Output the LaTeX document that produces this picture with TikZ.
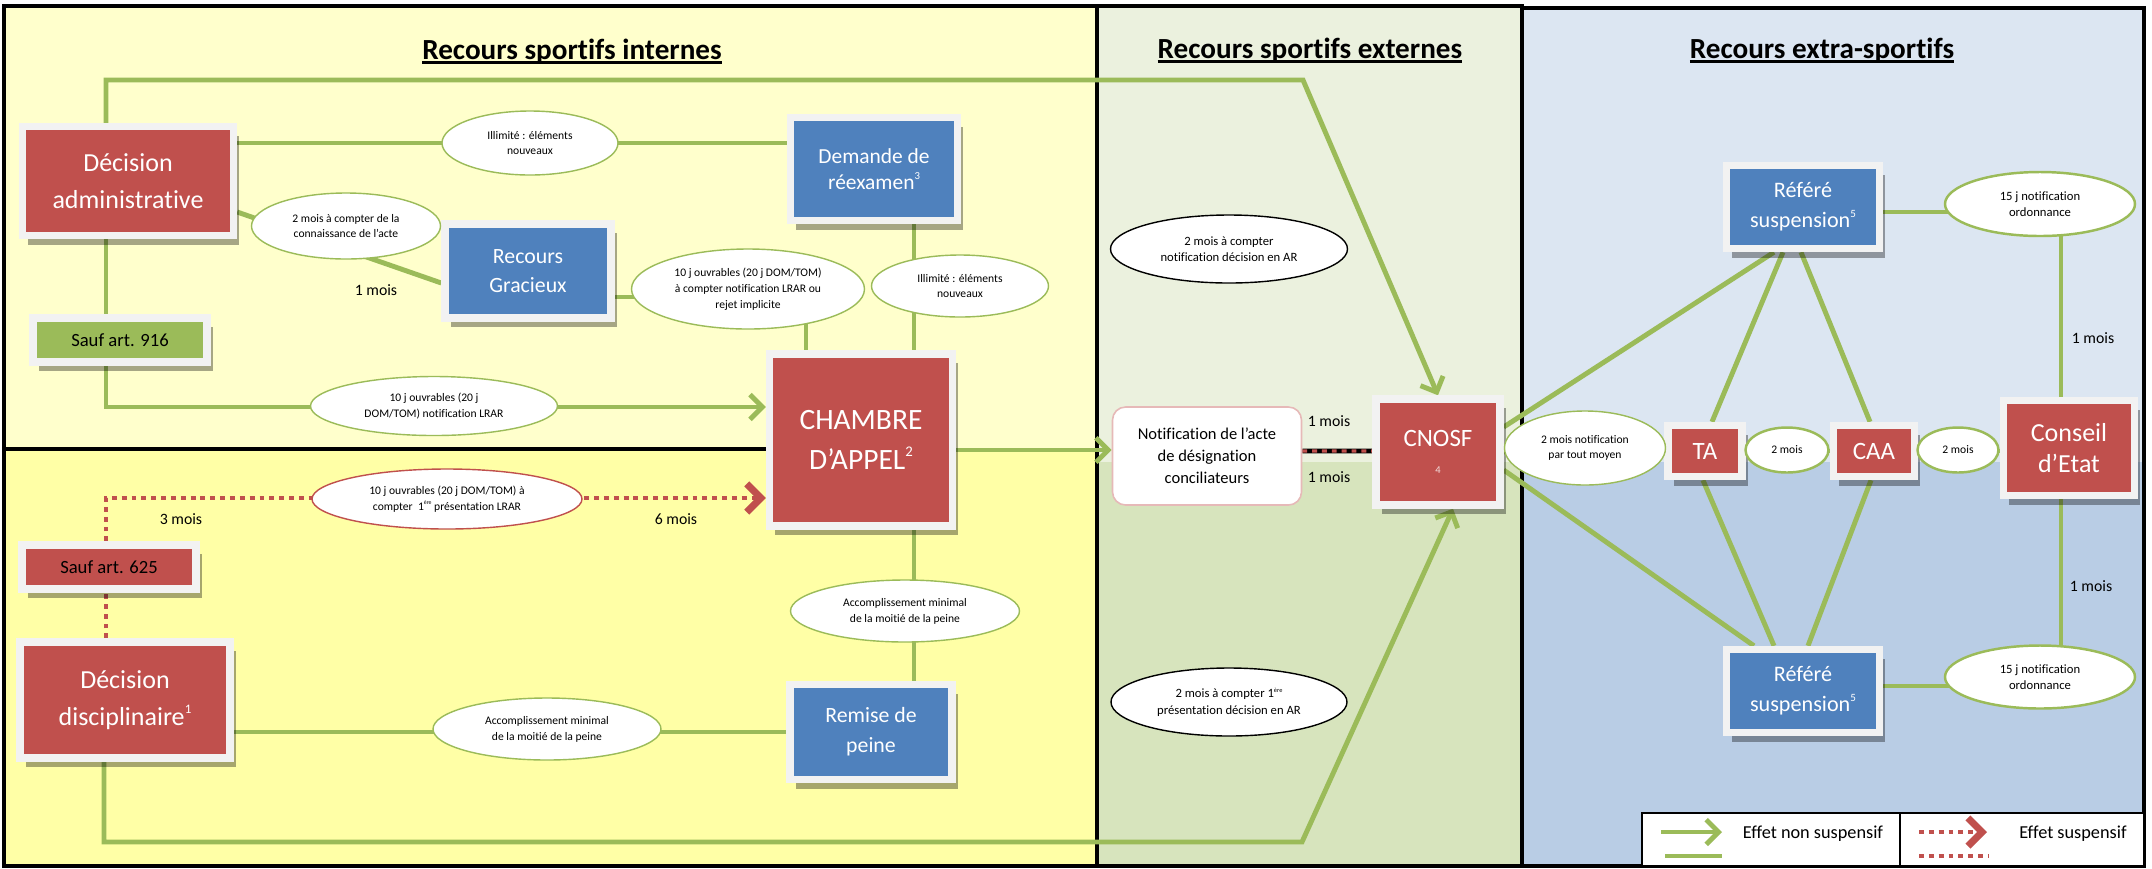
\documentclass[tikz,border=0pt]{standalone}
\usepackage{fontspec}
\setmainfont{Carlito}[Ligatures=NoCommon]
\usepackage{xcolor}
\usetikzlibrary{arrows.meta, shapes.geometric, shadows}
\definecolor{Brick}{HTML}{C0504D}
\definecolor{Steel}{HTML}{4F81BD}
\definecolor{Olive}{HTML}{9BBB59}
\definecolor{Frame}{HTML}{F2F2F2}
\definecolor{PaleYellow}{HTML}{FFFFCC}
\definecolor{Butter}{HTML}{FFFFA6}
\definecolor{Mint}{HTML}{EBF1DE}
\definecolor{Sage}{HTML}{D7E4BD}
\definecolor{Mist}{HTML}{DCE6F2}
\definecolor{Sky}{HTML}{B9CDE5}
\definecolor{Blush}{HTML}{E6B9B8}
\definecolor{PinkTint}{HTML}{F2DCDB}

\newcommand{\titleline}[1]{\setbox0\hbox{#1}\rlap{\rule[-1.5pt]{\wd0}{0.8pt}}\box0}
\newcommand{\fnmark}[1]{\raisebox{0.95ex}{\scalebox{0.5}{#1}}}

\pgfdeclarelayer{back}
\pgfdeclarelayer{lines}
\pgfsetlayers{back,lines,main}

\begin{document}
\begin{tikzpicture}[y=-1cm,
    box/.style={rectangle, draw=Frame, line width=2.1pt, inner sep=0pt, align=center, text=white,
        drop shadow={shadow xshift=1.6pt, shadow yshift=-2.6pt, fill=black, opacity=0.35}},
    redbox/.style={box, fill=Brick},
    bluebox/.style={box, fill=Steel},
    bubble/.style={ellipse, draw=Olive, line width=0.4pt, fill=white, inner sep=0pt, align=center,
        font=\fontsize{3.3}{4.5}\selectfont},
    seclbl/.style={font=\fontsize{8.3}{10}\selectfont\bfseries, anchor=base},
    delay/.style={font=\fontsize{4.5}{5.5}\selectfont},
    panel/.style={draw=black, line width=0.9pt},
    flow/.style={Olive, line width=1.4pt},
    flowarr/.style={flow, -{Straight Barb[length=3.5pt, width=7pt]}},
    susp/.style={Brick, line width=1.4pt, dash pattern=on 1.4pt off 1.4pt},
    susparr/.style={susp, -{Straight Barb[length=4pt, width=8pt, line width=2pt]}}
]
\useasboundingbox (0,0) rectangle (21.52,8.68);

% =============================================
% Panels
% =============================================
\begin{pgfonlayer}{back}
\fill[white] (0,0) rectangle (21.52,8.68);
\fill[Butter] (0.04,0.06) rectangle (10.97,8.66);
\fill[PaleYellow] (0.04,0.06) rectangle (10.97,4.49);
\fill[Sage] (10.97,0.06) rectangle (15.22,8.66);
\fill[Mint] (10.97,0.06) rectangle (15.22,4.62);
\fill[Sky] (15.22,0.08) rectangle (21.44,8.66);
\fill[Mist] (15.22,0.08) rectangle (21.44,4.62);
\draw[panel] (0.04,0.06) rectangle (10.97,8.66);
\draw[panel] (10.97,0.06) rectangle (15.22,8.66);
\draw[panel] (15.22,0.08) rectangle (21.44,8.66);
\end{pgfonlayer}

\node[seclbl] (titleint) at (5.72, 0.59) {\titleline{Recours sportifs internes}};
\node[seclbl] (titleext) at (13.10, 0.58) {\titleline{Recours sportifs externes}};
\node[seclbl] (titlextra) at (18.22, 0.58) {\titleline{Recours extra-sportifs}};

% =============================================
% LEFT: Recours sportifs internes
% =============================================
\node[redbox, minimum width=2.11cm, minimum height=1.09cm, font=\fontsize{7.4}{10.5}\selectfont]
    (decadm) at (1.28, 1.81) {Décision\\administrative};
\node[box, fill=Olive, text=black, minimum width=1.74cm, minimum height=0.44cm, font=\fontsize{5.3}{6}\selectfont]
    (sauf916) at (1.20, 3.40) {Sauf art. 916};
\node[bluebox, minimum width=1.66cm, minimum height=0.94cm, font=\fontsize{6.2}{8.3}\selectfont]
    (gracieux) at (5.28, 2.71) {Recours\\Gracieux};
\node[bluebox, minimum width=1.67cm, minimum height=1.03cm, font=\fontsize{6.1}{7.3}\selectfont]
    (reexamen) at (8.74, 1.69) {Demande de\\réexamen\fnmark{3}};
\node[redbox, minimum width=1.83cm, minimum height=1.72cm, font=\fontsize{8.4}{11.4}\selectfont]
    (chambre) at (8.61, 4.40) {CHAMBRE\\D’APPEL\fnmark{2}};
\node[bluebox, minimum width=1.62cm, minimum height=0.95cm, font=\fontsize{6.2}{8.5}\selectfont]
    (remise) at (8.71, 7.32) {Remise de\\peine};
\node[redbox, text=black, minimum width=1.74cm, minimum height=0.44cm, font=\fontsize{5.3}{6}\selectfont]
    (sauf625) at (1.09, 5.67) {Sauf art. 625};
\node[redbox, minimum width=2.10cm, minimum height=1.16cm, font=\fontsize{7.4}{10.7}\selectfont]
    (decdisc) at (1.25, 7.00) {Décision\\disciplinaire\fnmark{1}};

\node[bubble, minimum width=1.76cm, minimum height=0.64cm] (illim1) at (5.30, 1.43) {Illimité : éléments\\nouveaux};
\node[bubble, minimum width=1.89cm, minimum height=0.66cm] (dlconn) at (3.46, 2.26) {2 mois à compter de la\\connaissance de l’acte};
\node[bubble, minimum width=2.33cm, minimum height=0.80cm] (dlgrac) at (7.48, 2.89) {10 j ouvrables (20 j DOM/TOM)\\à compter notification LRAR ou\\rejet implicite};
\node[bubble, minimum width=1.77cm, minimum height=0.62cm] (illim2) at (9.60, 2.86) {Illimité : éléments\\nouveaux};
\node[bubble, minimum width=2.47cm, minimum height=0.59cm] (dllrar) at (4.34, 4.06) {10 j ouvrables (20 j\\DOM/TOM) notification LRAR};
\node[bubble, draw=Brick, minimum width=2.70cm, minimum height=0.60cm] (dlpres) at (4.47, 4.99) {10 j ouvrables (20 j DOM/TOM) à\\compter\ \ 1\fnmark{ère} présentation LRAR};
\node[bubble, minimum width=2.28cm, minimum height=0.62cm] (moitie1) at (5.47, 7.29) {Accomplissement minimal\\de la moitié de la peine};
\node[bubble, minimum width=2.29cm, minimum height=0.62cm] (moitie2) at (9.05, 6.11) {Accomplissement minimal\\de la moitié de la peine};

\node[delay] (mgrac) at (3.76, 2.90) {1 mois};
\node[delay] (mtrois) at (1.81, 5.19) {3 mois};
\node[delay] (msix) at (6.76, 5.19) {6 mois};

\coordinate (divL) at (0.04, 4.49);

\begin{pgfonlayer}{back}
\draw[panel] (divL) -- (divL -| chambre.west);
\end{pgfonlayer}

\begin{pgfonlayer}{lines}
% internal edges
\draw[flow] (decadm.east |- illim1) -- (reexamen.west |- illim1);
\draw[flow] ([yshift=-0.31cm]decadm.east) -- ([yshift=-0.12cm]gracieux.west);
\draw[flow] ([yshift=-0.26cm]gracieux.east) -| ([xshift=-0.55cm]chambre.north);
\draw[flow] ([xshift=0.40cm]reexamen.south) coordinate (rx) -- (rx |- chambre.north);
\draw[flow] ([xshift=-0.22cm]decadm.south) -- ([xshift=-0.14cm]sauf916.north);
\draw[flowarr] ([xshift=-0.14cm]sauf916.south) |- ([yshift=0.33cm]chambre.west);
\draw[flow] (decdisc.east |- remise.west) -- (remise.west);
\draw[flow] ([xshift=0.43cm]remise.north) coordinate (rm) -- (rm |- chambre.south);
% suspensive edges
\draw[susp] ([xshift=-0.19cm]decdisc.north) -- ([xshift=-0.03cm]sauf625.south);
\draw[susparr] ([xshift=-0.03cm]sauf625.north) |- ([yshift=-0.58cm]chambre.west);
\end{pgfonlayer}

% =============================================
% MIDDLE: Recours sportifs externes
% =============================================
\node[draw=Blush, line width=0.45pt, fill=white, rounded corners=0.13cm, minimum width=1.89cm,
    minimum height=0.98cm, align=center, font=\fontsize{4.7}{6.3}\selectfont]
    (notif) at (12.07, 4.56) {Notification de l’acte\\de désignation\\conciliateurs};
\node[redbox, minimum width=1.24cm, minimum height=1.06cm, font=\fontsize{7.1}{7.6}\selectfont]
    (cnosf) at (14.38, 4.52) {CNOSF\\{\fontsize{3}{3}\selectfont\color{PinkTint}4}};

\node[bubble, draw=black, font=\fontsize{3.6}{4.7}\selectfont, minimum width=2.37cm, minimum height=0.68cm]
    (arnotif) at (12.29, 2.49) {2 mois à compter\\notification décision en AR};
\node[bubble, draw=black, font=\fontsize{3.6}{4.7}\selectfont, minimum width=2.36cm, minimum height=0.68cm]
    (arpres) at (12.29, 7.02) {2 mois à compter 1\fnmark{ère}\\présentation décision en AR};

\node[delay] (mconcA) at (13.29, 4.21) {1 mois};
\node[delay] (mconcB) at (13.29, 4.77) {1 mois};

\coordinate (bendtop) at (13.03, 0.80);
\coordinate (bendbot) at (13.02, 8.42);

\begin{pgfonlayer}{lines}
\draw[flowarr] ([xshift=-0.22cm]decadm.north) |- (bendtop) -- (cnosf.north);
\draw[flowarr] ([xshift=-0.21cm]decdisc.south) |- (bendbot) -- ([xshift=0.15cm]cnosf.south);
\draw[flowarr] ([yshift=-0.10cm]chambre.east) -- ([yshift=0.06cm]notif.west);
\draw[black, line width=1.4pt] ([yshift=0.05cm]notif.east) -- ([yshift=0.01cm]cnosf.west);
\draw[Brick, line width=0.9pt, dash pattern=on 1.4pt off 1.4pt] ([yshift=0.05cm]notif.east) -- ([yshift=0.01cm]cnosf.west);
\end{pgfonlayer}

% =============================================
% RIGHT: Recours extra-sportifs
% =============================================
\node[bluebox, minimum width=1.53cm, minimum height=0.83cm, font=\fontsize{6.3}{8.5}\selectfont]
    (refere1) at (18.03, 2.07) {Référé\\suspension\fnmark{5}};
\node[redbox, minimum width=0.74cm, minimum height=0.51cm, font=\fontsize{7.1}{8}\selectfont]
    (ta) at (17.05, 4.51) {TA};
\node[redbox, minimum width=0.81cm, minimum height=0.51cm, font=\fontsize{7.1}{8}\selectfont]
    (caa) at (18.74, 4.51) {CAA};
\node[redbox, minimum width=1.31cm, minimum height=0.95cm, font=\fontsize{7.4}{8.7}\selectfont]
    (conseil) at (20.69, 4.48) {Conseil\\d’Etat};
\node[bluebox, minimum width=1.53cm, minimum height=0.83cm, font=\fontsize{6.3}{8.5}\selectfont]
    (refere2) at (18.03, 6.91) {Référé\\suspension\fnmark{5}};

\node[bubble, minimum width=1.61cm, minimum height=0.74cm] (dltout) at (15.85, 4.48) {2 mois notification\\par tout moyen};
\node[bubble, line width=0.7pt, minimum width=0.83cm, minimum height=0.45cm] (dlta) at (17.87, 4.50) {2 mois};
\node[bubble, line width=0.7pt, minimum width=0.81cm, minimum height=0.45cm] (dlcaa) at (19.58, 4.50) {2 mois};
\node[bubble, line width=0.7pt, minimum width=1.90cm, minimum height=0.64cm, font=\fontsize{3.6}{4.7}\selectfont]
    (ordA) at (20.40, 2.04) {15 j notification\\ordonnance};
\node[bubble, line width=0.7pt, minimum width=1.90cm, minimum height=0.63cm, font=\fontsize{3.6}{4.7}\selectfont]
    (ordB) at (20.40, 6.77) {15 j notification\\ordonnance};

\node[delay] (mceA) at (20.93, 3.38) {1 mois};
\node[delay] (mceB) at (20.91, 5.86) {1 mois};

\begin{pgfonlayer}{lines}
\draw[flow] (cnosf.east) -- (ta.west);
\draw[flow] ([yshift=0.25cm]cnosf.east) -- ([xshift=-0.29cm]refere1.south);
\draw[flow] ([xshift=0.07cm]ta.north) -- ([xshift=-0.20cm]refere1.south);
\draw[flow] ([xshift=-0.04cm]caa.north) -- ([xshift=-0.02cm]refere1.south);
\draw[flow] ([yshift=-0.18cm]cnosf.east) -- ([xshift=-0.49cm]refere2.north);
\draw[flow] ([xshift=-0.02cm]ta.south) -- ([xshift=-0.29cm]refere2.north);
\draw[flow] ([xshift=-0.03cm]caa.south) -- ([xshift=0.05cm]refere2.north);
\draw[flow] (ta.east) -- (caa.west);
\draw[flow] (caa.east) -- (caa.east -| conseil.west);
\draw[flow] ([yshift=-0.05cm]refere1.east) -| ([xshift=-0.08cm]conseil.north);
\draw[flow] ([xshift=-0.08cm]conseil.south) |- ([yshift=0.05cm]refere2.east);
\end{pgfonlayer}

% =============================================
% Legend
% =============================================
\node[draw=black, line width=0.8pt, fill=white, minimum width=2.58cm, minimum height=0.53cm] (legnon) at (17.71, 8.395) {};
\node[draw=black, line width=0.8pt, fill=white, minimum width=2.44cm, minimum height=0.53cm] (legsus) at (20.22, 8.395) {};
\node[font=\fontsize{5.2}{6}\selectfont] (txtnon) at (18.13, 8.34) {Effet non suspensif};
\node[font=\fontsize{5.2}{6}\selectfont] (txtsus) at (20.73, 8.34) {Effet suspensif};

\coordinate (lnA) at (16.61, 8.32);
\coordinate (lnB) at (17.22, 8.32);
\coordinate (lnC) at (16.65, 8.56);
\coordinate (lnD) at (17.22, 8.56);
\coordinate (lsA) at (19.19, 8.32);
\coordinate (lsB) at (19.87, 8.32);
\coordinate (lsC) at (19.19, 8.56);
\coordinate (lsD) at (19.89, 8.56);
\draw[flowarr] (lnA) -- (lnB);
\draw[flow] (lnC) -- (lnD);
\draw[susparr] (lsA) -- (lsB);
\draw[susp] (lsC) -- (lsD);

\end{tikzpicture}
\end{document}
